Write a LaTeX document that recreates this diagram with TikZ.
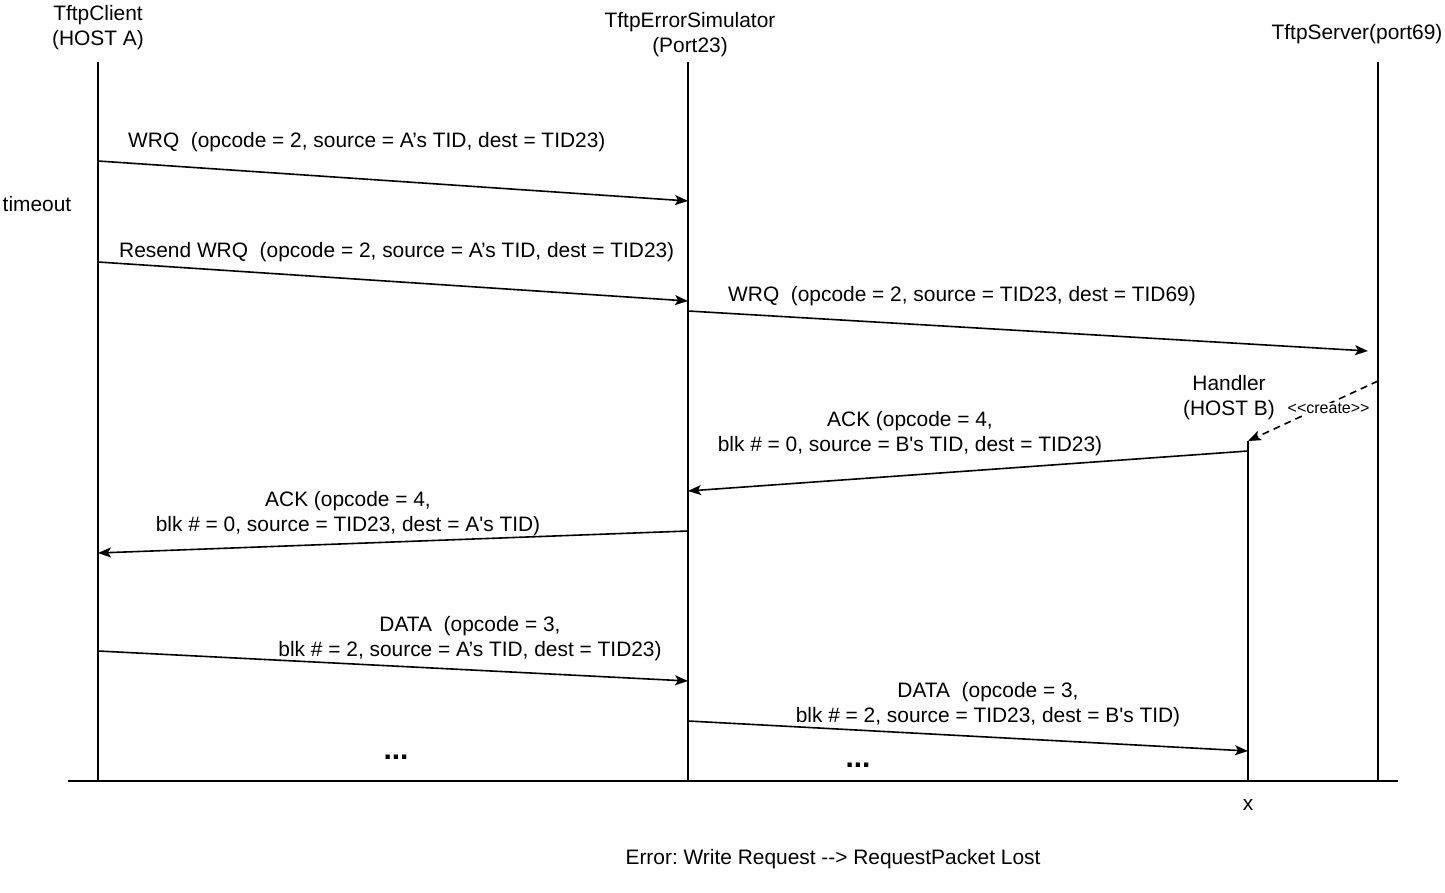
\documentclass[tikz,border=0pt]{standalone}
\usepackage{fontspec}
\setmainfont{Liberation Sans}[Ligatures=TeXOff]
\usetikzlibrary{arrows.meta}
\frenchspacing

\tikzset{
  lbl/.style={font=\fontsize{20.9}{25}\selectfont, align=center, inner sep=0pt},
  small/.style={font=\fontsize{16}{18}\selectfont, inner sep=1pt},
  life/.style={line width=1.6pt},
  msg/.style={line width=1.6pt, -{Stealth[length=13pt,width=10pt,inset=3pt]}},
  create/.style={line width=1.6pt, dash pattern=on 7pt off 5pt, -{Stealth[length=13pt,width=10pt,inset=3pt]}}
}

\begin{document}
\begin{tikzpicture}[x=1pt,y=-1pt]
  \useasboundingbox (0,0) rectangle (1445,893);

  % lifeline heads
  \node[lbl] (client)  at (98,28)   {TftpClient\\(HOST A)};
  \node[lbl] (sim)     at (690,35)  {TftpErrorSimulator\\(Port23)};
  \node[lbl] (server)  at (1357,34) {TftpServer(port69)};
  \node[lbl] (handler) at (1229,398) {Handler\\(HOST B)};

  % lifelines
  \coordinate (clientTop)  at (98,62);
  \coordinate (clientEnd)  at (98,781);
  \coordinate (simTop)     at (688,62);
  \coordinate (simEnd)     at (688,781);
  \coordinate (serverTop)  at (1378,62);
  \coordinate (serverEnd)  at (1378,781);
  \coordinate (handlerTop) at (1248,441);
  \coordinate (handlerEnd) at (1248,781);
  \draw[life] (clientTop) -- (clientEnd);
  \draw[life] (simTop) -- (simEnd);
  \draw[life] (serverTop) -- (serverEnd);
  \draw[life] (handlerTop) -- (handlerEnd);

  % time axis
  \coordinate (axisL) at (68,781);
  \coordinate (axisR) at (1398,781);
  \draw[line width=2pt] (axisL) -- (axisR);

  \node[lbl] (timeout) at (37,204) {timeout};

  % WRQ
  \coordinate (wrqFrom) at (98,161);
  \coordinate (wrqTo)   at (688,201);
  \draw[msg] (wrqFrom) -- (wrqTo);
  \node[lbl,anchor=west] (wrqLbl) at (128,142) {WRQ~ (opcode = 2, source = A’s TID, dest = TID23)};

  % resend WRQ
  \coordinate (resendFrom) at (98,262);
  \coordinate (resendTo)   at (688,301);
  \draw[msg] (resendFrom) -- (resendTo);
  \node[lbl,anchor=west] (resendLbl) at (119,252) {Resend WRQ~ (opcode = 2, source = A’s TID, dest = TID23)};

  % forwarded WRQ
  \coordinate (fwdFrom) at (688,311);
  \coordinate (fwdTo)   at (1368,351);
  \draw[msg] (fwdFrom) -- (fwdTo);
  \node[lbl,anchor=west] (fwdLbl) at (728,296) {WRQ~ (opcode = 2, source = TID23, dest = TID69)};

  % handler creation
  \coordinate (createSrc) at (1378,381);
  \draw[create] (createSrc) -- (handlerTop)
    node[small,pos=0.38,fill=white,yshift=-5pt] (createLbl) {<\kern0pt<create>\kern0pt>};

  % ACK from handler
  \coordinate (ackFrom) at (1248,451);
  \coordinate (ackTo)   at (688,491);
  \draw[msg] (ackFrom) -- (ackTo);
  \node[lbl] (ackLbl) at (910,434) {ACK (opcode = 4,\\blk \# = 0, source = B\textquotesingle s TID, dest = TID23)};

  % ACK to client
  \coordinate (ackFwdFrom) at (688,531);
  \coordinate (ackFwdTo)   at (98,553);
  \draw[msg] (ackFwdFrom) -- (ackFwdTo);
  \node[lbl] (ackFwdLbl) at (348,514) {ACK (opcode = 4,\\blk \# = 0, source = TID23, dest = A\textquotesingle s TID)};

  % DATA from client
  \coordinate (dataFrom) at (98,651);
  \coordinate (dataTo)   at (688,681);
  \draw[msg] (dataFrom) -- (dataTo);
  \node[lbl] (dataLbl) at (470,639) {DATA~ (opcode = 3,\\blk \# = 2, source = A’s TID, dest = TID23)};

  % DATA to handler
  \coordinate (dataFwdFrom) at (688,721);
  \coordinate (dataFwdTo)   at (1248,751);
  \draw[msg] (dataFwdFrom) -- (dataFwdTo);
  \node[lbl] (dataFwdLbl) at (988,705) {DATA~ (opcode = 3,\\blk \# = 2, source = TID23, dest = B\textquotesingle s TID)};

  % continuation dots
  \node[font=\fontsize{30}{30}\selectfont\bfseries,inner sep=0pt] (dotsA) at (396,757) {...};
  \node[font=\fontsize{30}{30}\selectfont\bfseries,inner sep=0pt] (dotsB) at (858,765) {...};

  \node[lbl] (lost) at (1248,805) {x};
  \node[lbl] (caption) at (833,859) {Error: Write Request -\kern0pt-> RequestPacket Lost};

\end{tikzpicture}
\end{document}
